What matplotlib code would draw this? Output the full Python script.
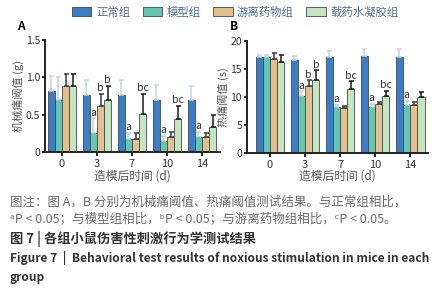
import numpy as np
import matplotlib
matplotlib.use("Agg")
import matplotlib.pyplot as plt
from matplotlib.patches import Patch

plt.rcParams['font.family'] = ['Noto Sans CJK SC', 'DejaVu Sans']

days = ['0', '3', '7', '10', '14']
groups = ['正常组', '模型组', '游离药物组', '载药水凝胶组']

# panel A: mechanical threshold (g)
mech_mean = [[0.82, 0.76, 0.76, 0.69, 0.69],
             [0.69, 0.25, 0.18, 0.15, 0.20],
             [0.88, 0.62, 0.18, 0.20, 0.20],
             [0.88, 0.69, 0.51, 0.44, 0.33]]
mech_err = [[0.20, 0.21, 0.21, 0.21, 0.20],
            [0.31, 0.20, 0.08, 0.07, 0.07],
            [0.17, 0.16, 0.08, 0.07, 0.06],
            [0.17, 0.20, 0.27, 0.18, 0.17]]
mech_sig = [['', '', '', '', ''],
            ['', 'a', 'a', 'a', 'a'],
            ['', 'b', '', '', ''],
            ['', 'b', 'bc', 'bc', '']]

# panel B: thermal threshold (s)
heat_mean = [[17.2, 16.7, 17.2, 17.4, 17.2],
             [17.2, 10.1, 8.2, 8.2, 8.6],
             [16.8, 12.0, 8.0, 8.7, 8.6],
             [16.3, 13.1, 11.5, 10.1, 10.0]]
heat_err = [[0.3, 0.6, 1.0, 1.2, 1.3],
            [0.3, 0.9, 0.4, 0.6, 0.7],
            [1.0, 1.0, 0.4, 0.5, 0.5],
            [1.3, 1.7, 1.3, 1.0, 0.9]]
heat_sig = [['', '', '', '', ''],
            ['', 'a', 'a', 'a', 'a'],
            ['', 'b', '', '', ''],
            ['', 'b', 'bc', 'bc', '']]

colors = ['#3f7cc6', '#63c6b2', '#e5c08c', '#c6e4c0']
err_colors = ['#c9d2dc', '#b9d6de', '#3a3a3a', '#1a1a1a']


def draw_panel(ax, means, errs, sigs, yticks, yticklabels, ylabel, off):
    x = np.arange(len(days))
    w = 0.205
    for i in range(len(groups)):
        pos = x + (i - 1.5) * w
        ax.bar(pos, means[i], w, color=colors[i], edgecolor='#3a4a55', linewidth=0.6, zorder=2)
        ax.errorbar(pos, means[i], yerr=[np.zeros(len(days)), errs[i]], fmt='none',
                    ecolor=err_colors[i], elinewidth=1.1, capsize=1.8, capthick=1.1, zorder=3)
        for j in range(len(days)):
            if sigs[i][j]:
                ax.text(pos[j], means[i][j] + errs[i][j] + off, sigs[i][j], ha='center',
                        va='bottom', fontsize=7.5, color='#333333')
    ax.set_xticks(x)
    ax.set_xticklabels(days, fontsize=8, color='#333333')
    ax.set_yticks(yticks)
    ax.set_yticklabels(yticklabels, fontsize=7.5, color='#333333')
    ax.set_ylim(yticks[0], yticks[-1])
    ax.set_ylabel(ylabel, fontsize=8, color='#555555', labelpad=1)
    ax.set_xlabel('造模后时间 (d)', fontsize=8.5, color='#555555', labelpad=0)
    for s in ['top', 'right']:
        ax.spines[s].set_visible(False)
    for s in ['left', 'bottom']:
        ax.spines[s].set_linewidth(1.4)
        ax.spines[s].set_color('#222222')
    ax.tick_params(axis='y', length=2.5, width=1.2, pad=1)
    ax.tick_params(axis='x', length=3, width=1.2, pad=2)


fig = plt.figure(figsize=(4.44, 3.0), dpi=100)

axA = fig.add_axes([0.101, 0.493, 0.394, 0.374])
draw_panel(axA, mech_mean, mech_err, mech_sig, [0, 0.5, 1.0, 1.5],
           ['0', '0.5', '1.0', '1.5'], '机械痛阈值 (g)', 0.01)
axA.set_xlim(-0.49, 4.51)

axB = fig.add_axes([0.556, 0.49, 0.408, 0.373])
draw_panel(axB, heat_mean, heat_err, heat_sig, [0, 5, 10, 15, 20],
           ['0', '5', '10', '15', '20'], '热痛阈值 (s)', 0.1)
axB.set_xlim(-0.66, 4.51)

fig.text(17 / 444, 1 - 27 / 300, 'A', fontsize=8.5, fontweight='bold', ha='left', va='center')
fig.text(230 / 444, 1 - 27 / 300, 'B', fontsize=8.5, fontweight='bold', ha='left', va='center')

handles = [Patch(facecolor=c, edgecolor='#3a4a55', linewidth=0.6) for c in colors]
fig.legend(handles, groups, loc='center', bbox_to_anchor=(0.53, 1 - 12 / 300), ncol=4,
           frameon=False, fontsize=8.2, handlelength=1.7, handleheight=0.8,
           columnspacing=1.1, handletextpad=0.4, labelcolor='#4f6d96')

cap_gray = '#6a6a6a'
fig.text(10 / 444, 1 - 202 / 300, '图注：图 A，B 分别为机械痛阈值、热痛阈值测试结果。与正常组相比，',
         fontsize=9, color=cap_gray, va='center')
fig.text(10 / 444, 1 - 219 / 300, 'ᵃP < 0.05；与模型组相比，ᵇP < 0.05；与游离药物组相比，ᶜP < 0.05。',
         fontsize=9, color=cap_gray, va='center')
fig.text(10 / 444, 1 - 239 / 300, '图 7 | 各组小鼠伤害性刺激行为学测试结果',
         fontsize=9.5, color='#333333', va='center', fontweight='bold')
fig.text(10 / 444, 1 - 258 / 300, 'Figure 7  |  Behavioral test results of noxious stimulation in mice in each',
         fontsize=8.6, color='#333333', va='center', fontweight='bold')
fig.text(10 / 444, 1 - 277 / 300, 'group',
         fontsize=8.6, color='#333333', va='center', fontweight='bold')

fig.savefig('out.png', dpi=100)
